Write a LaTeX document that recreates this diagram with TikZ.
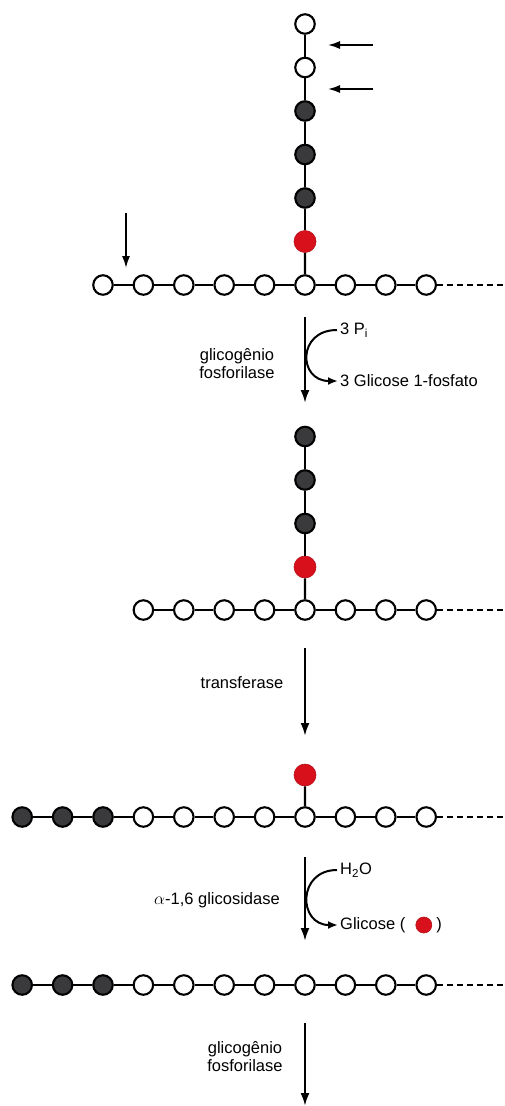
\documentclass[tikz,border=0pt]{standalone}
\usepackage{fontspec}
\setmainfont{Liberation Sans}
\usetikzlibrary{arrows.meta,positioning,calc}
\definecolor{glcgray}{HTML}{3A3A3C}
\definecolor{glcred}{HTML}{D7101C}
\tikzstyle{glc} = [draw, circle, line width=2.1pt, minimum size=19.5pt, inner sep=0pt, fill=white]
\tikzstyle{dark} = [glc, fill=glcgray]
\tikzstyle{ramo} = [circle, fill=glcred, draw=glcred!85!black, line width=0.6pt, minimum size=22pt, inner sep=0pt]
\tikzstyle{bond} = [line width=2.1pt]
\tikzstyle{tail} = [line width=2pt, dash pattern=on 6pt off 4pt]
\tikzstyle{reac} = [-{Latex[length=13pt,width=9pt]}, line width=2.3pt]
\tikzstyle{hint} = [-{Latex[length=12pt,width=8pt]}, line width=1.7pt]
\tikzstyle{curv} = [-{Latex[length=10pt,width=8pt]}, line width=2pt]
\tikzstyle{txt} = [font=\fontsize{16.5}{18}\selectfont, inner sep=1pt]

\begin{document}
\begin{tikzpicture}[x=1pt, y=-1pt]
    \useasboundingbox (0,0) rectangle (504,1106);

    % Glicogenio com ramo
    \foreach \n/\y/\s in {1/24/glc, 2/67.5/glc, 3/111/dark, 4/154.5/dark, 5/198/dark}
        \node [\s] (aV\n) at (305,\y) {};
    \node [ramo] (aR) at (305,241.5) {};
    \foreach \k in {2,...,10}
        \node [glc] (a\k) at ({22.2+40.4*\k},285) {};
    \coordinate (aEnd) at (504,285);
    \foreach \u/\v in {aV1/aV2, aV2/aV3, aV3/aV4, aV4/aV5, aV5/aR, aR/a7, a2/a3, a3/a4, a4/a5, a5/a6, a6/a7, a7/a8, a8/a9, a9/a10}
        \draw [bond] (\u) -- (\v);
    \draw [tail] (a10) -- (aEnd);

    % Setas indicadoras
    \coordinate (h1s) at (373,45);
    \coordinate (h1e) at (328,45);
    \coordinate (h2s) at (373,89);
    \coordinate (h2e) at (328,89);
    \coordinate (h3s) at (126,213);
    \coordinate (h3e) at (126,268);
    \draw [hint] (h1s) -- (h1e);
    \draw [hint] (h2s) -- (h2e);
    \draw [hint] (h3s) -- (h3e);

    % Etapa 1
    \coordinate (r1s) at (305,317);
    \coordinate (r1e) at (305,403);
    \draw [reac] (r1s) -- (r1e);
    \node [txt, align=center] (enz1) at (237,364) {glicogênio\\fosforilase};
    \node [txt, anchor=west] (pi) at (339,330) {3 P\textsubscript{i}};
    \node [txt, anchor=west] (g1p) at (339,381) {3 Glicose 1-fosfato};
    \draw [curv] ([xshift=-2pt]pi.west) .. controls +(-40,0) and +(-40,0) .. ([xshift=-1pt]g1p.west);

    % Depois da fosforilase
    \foreach \n/\y in {1/436.5, 2/480, 3/523.5}
        \node [dark] (bV\n) at (305,\y) {};
    \node [ramo] (bR) at (305,567) {};
    \foreach \k in {3,...,10}
        \node [glc] (b\k) at ({22.2+40.4*\k},610) {};
    \coordinate (bEnd) at (504,610);
    \foreach \u/\v in {bV1/bV2, bV2/bV3, bV3/bR, bR/b7, b3/b4, b4/b5, b5/b6, b6/b7, b7/b8, b8/b9, b9/b10}
        \draw [bond] (\u) -- (\v);
    \draw [tail] (b10) -- (bEnd);

    % Etapa 2
    \coordinate (r2s) at (305,648);
    \coordinate (r2e) at (305,736);
    \draw [reac] (r2s) -- (r2e);
    \node [txt] (enz2) at (242,683) {transferase};

    % Depois da transferase
    \node [ramo] (cR) at (305,775) {};
    \foreach \k in {0,...,10} {
        \ifnum\k<3 \def\s{dark}\else \def\s{glc}\fi
        \node [\s] (c\k) at ({22.2+40.4*\k},817) {};
    }
    \coordinate (cEnd) at (504,817);
    \draw [bond] (cR) -- (c7);
    \foreach \k in {0,...,9} {
        \pgfmathtruncatemacro\j{\k+1}
        \draw [bond] (c\k) -- (c\j);
    }
    \draw [tail] (c10) -- (cEnd);

    % Etapa 3
    \coordinate (r3s) at (305,857);
    \coordinate (r3e) at (305,941);
    \draw [reac] (r3s) -- (r3e);
    \node [txt] (enz3) at (217,900) {$\alpha$-1,6 glicosidase};
    \node [txt, anchor=west] (h2o) at (339,870) {H\textsubscript{2}O};
    \node [txt, anchor=west] (gl) at (339,925) {Glicose (};
    \node [ramo, minimum size=16pt, right=9pt of gl] (gdot) {};
    \node [txt, right=3pt of gdot] (gpar) {)};
    \draw [curv] ([xshift=-2pt]h2o.west) .. controls +(-40,0) and +(-40,0) .. ([xshift=-1pt]gl.west);

    % Cadeia linear
    \foreach \k in {0,...,10} {
        \ifnum\k<3 \def\s{dark}\else \def\s{glc}\fi
        \node [\s] (d\k) at ({22.2+40.4*\k},985) {};
    }
    \coordinate (dEnd) at (504,985);
    \foreach \k in {0,...,9} {
        \pgfmathtruncatemacro\j{\k+1}
        \draw [bond] (d\k) -- (d\j);
    }
    \draw [tail] (d10) -- (dEnd);

    % Etapa 4
    \coordinate (r4s) at (305,1023);
    \coordinate (r4e) at (305,1106);
    \draw [reac] (r4s) -- (r4e);
    \node [txt, align=center] (enz4) at (245,1057) {glicogênio\\fosforilase};
\end{tikzpicture}
\end{document}
